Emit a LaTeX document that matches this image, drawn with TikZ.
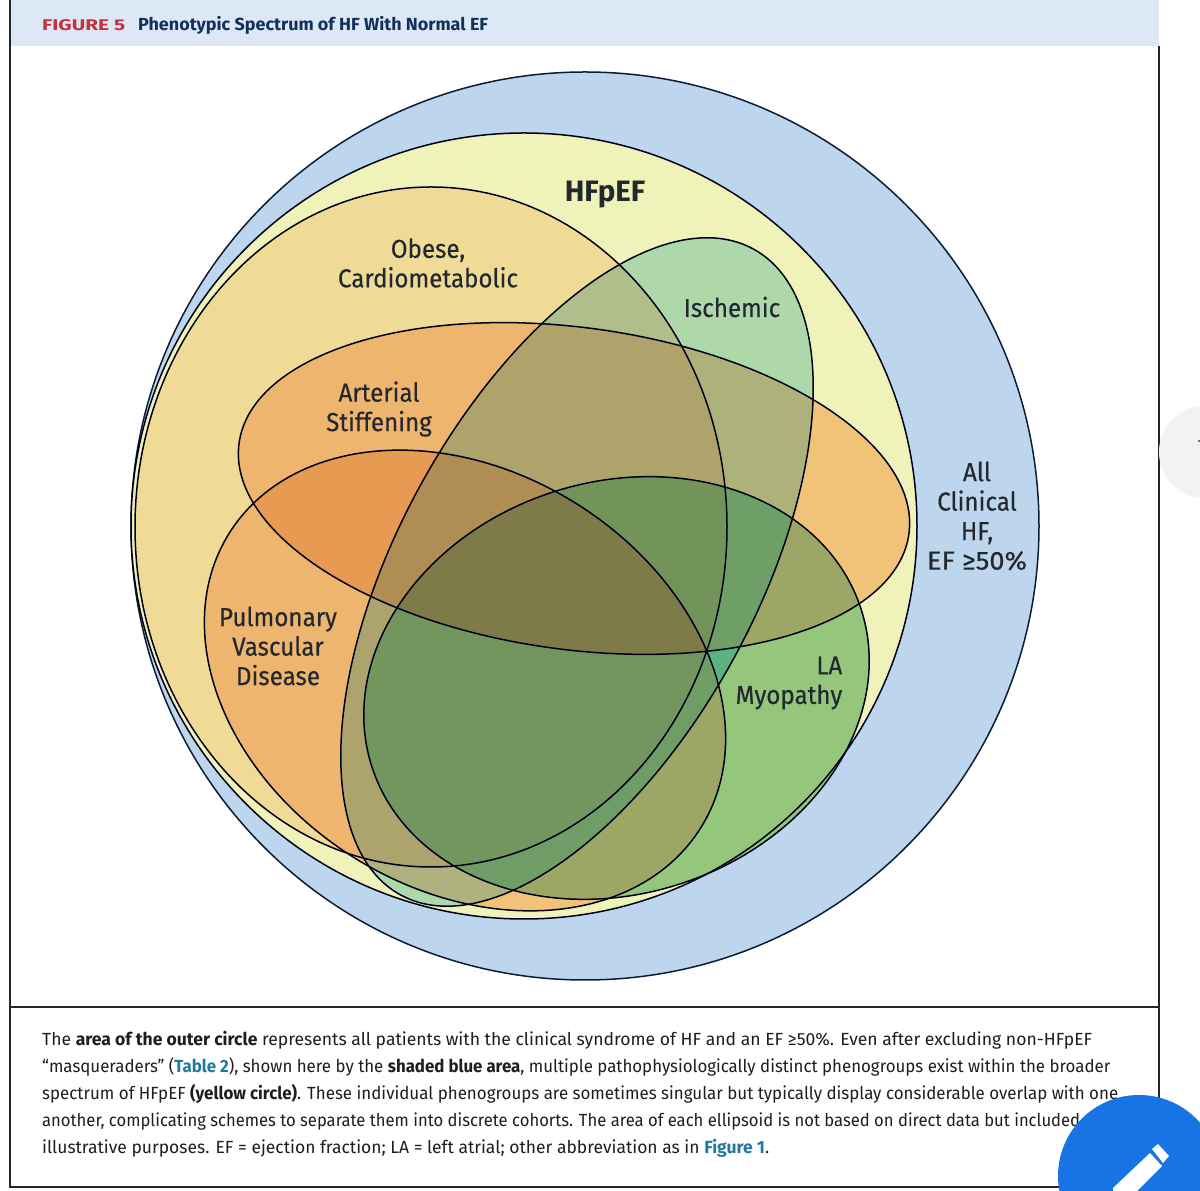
\documentclass[tikz,border=0pt]{standalone}
\usepackage{fontspec}
\setmainfont{Fira Sans}
\newfontfamily\labfont[FakeStretch=0.93,FakeBold=0.3]{Fira Sans}
\definecolor{labc}{HTML}{22282E}
\definecolor{capc}{HTML}{1E1E1E}
\definecolor{bandc}{HTML}{DCE8F5}
\definecolor{outerc}{HTML}{BDD6EE}
\definecolor{yellowc}{HTML}{EFF3B9}
\definecolor{linkc}{HTML}{1F7A9C}
\definecolor{redc}{HTML}{C8303C}
\definecolor{navyc}{HTML}{12305A}
\definecolor{btnc}{HTML}{1874E4}
\newcommand\pathO{(431,664) ellipse[x radius=296pt,y radius=340pt]}
\newcommand\pathA{(574,702.5) ellipse[x radius=338pt,y radius=161pt]}
\newcommand\pathP{(465,510.5) ellipse[x radius=278pt,y radius=209pt]}
\newcommand\pathI{(577,619) ellipse[x radius=368pt,y radius=179pt]}
\newcommand\pathL{(616.5,503) ellipse[x radius=257pt,y radius=206pt]}
\tikzset{
  rotO/.style={},
  rotA/.style={rotate around={-7.7:(574,702.5)}},
  rotP/.style={rotate around={-31.9:(465,510.5)}},
  rotI/.style={rotate around={61.35:(577,619)}},
  rotL/.style={rotate around={17.8:(616.5,503)}}}
\newcommand\clipO{\clip[rotO] \pathO;}
\newcommand\clipA{\clip[rotA] \pathA;}
\newcommand\clipP{\clip[rotP] \pathP;}
\newcommand\clipI{\clip[rotI] \pathI;}
\newcommand\clipL{\clip[rotL] \pathL;}
\newcommand\regionfill[2]{\begin{scope}#1\definecolor{tmpc}{HTML}{#2}\fill[tmpc] (0,0) rectangle (1200,1191);\end{scope}}
\begin{document}
\begin{tikzpicture}[x=1pt,y=1pt,
  lineE/.style={draw=black!90!blue,line width=1.5pt},
  frameline/.style={draw=black!85,line width=1.4pt},
  lab/.style={font=\fontsize{26}{30}\selectfont\labfont\color{labc},align=center,inner sep=0pt},
  captext/.style={anchor=base west,inner sep=0pt,font=\fontsize{17.6}{20}\selectfont\color{capc}}]
\useasboundingbox (0,0) rectangle (1200,1191);
\fill[white] (0,0) rectangle (1200,1191);
% band and frame
\fill[bandc] (10,1145) rectangle (1159,1191);
\draw[frameline] (10,1191) -- (10,4) -- (1159,4) -- (1159,1145);
\draw[frameline] (10,184) -- (1159,184);
% grey circle
\fill[black!5] (1205,739) circle[radius=46pt];
\fill[black!55] (1198,749) rectangle (1200,751);
% circles
\fill[outerc] (585,665) circle[radius=454pt];
\draw[lineE,draw=navyc!60!black] (585,665) circle[radius=454pt];
\fill[yellowc] (524,665) circle[radius=393pt];
% overlap regions, painted from fewest to most sets
\regionfill{\clipO}{EFDB95}
\regionfill{\clipA}{F0C379}
\regionfill{\clipP}{F0C379}
\regionfill{\clipI}{AED8AA}
\regionfill{\clipL}{94C77B}
\regionfill{\clipO\clipA}{EEB56F}
\regionfill{\clipO\clipP}{EEB56F}
\regionfill{\clipO\clipI}{B0BE8B}
\regionfill{\clipA\clipI}{ADB27B}
\regionfill{\clipP\clipI}{ADB27F}
\regionfill{\clipI\clipL}{5CB27F}
\regionfill{\clipA\clipL}{9CA765}
\regionfill{\clipP\clipL}{9CA765}
\regionfill{\clipO\clipA\clipP}{E69A52}
\regionfill{\clipO\clipA\clipI}{AEA36B}
\regionfill{\clipO\clipP\clipI}{ADA36D}
\regionfill{\clipA\clipI\clipL}{6E9F66}
\regionfill{\clipP\clipI\clipL}{6E9E66}
\regionfill{\clipO\clipI\clipL}{73955E}
\regionfill{\clipO\clipA\clipP\clipI}{B08D52}
\regionfill{\clipO\clipA\clipI\clipL}{72945A}
\regionfill{\clipO\clipP\clipI\clipL}{73955E}
\regionfill{\clipO\clipA\clipP\clipI\clipL}{7E7B49}
% outlines
\draw[lineE] (524,665) circle[radius=393pt];
\draw[lineE,rotO] \pathO;
\draw[lineE,rotA] \pathA;
\draw[lineE,rotP] \pathP;
\draw[lineE,rotI] \pathI;
\draw[lineE,rotL] \pathL;
% labels
\node[lab,font=\fontsize{29.5}{30}\selectfont\bfseries\color{labc}] (hfpef) at (605,996) {HFpEF};
\node[lab] (obese) at (428,928) {Obese,\\[-0.5pt]Cardiometabolic};
\node[lab] (isch) at (732,884) {Ischemic};
\node[lab] (art) at (379,782) {Arterial\\[-0.5pt]Stiffening};
\node[lab] (pvd) at (278,545) {Pulmonary\\[-0.5pt]Vascular\\[-0.5pt]Disease};
\node[lab,align=right] (la) at (789,508) {LA\\[-0.5pt]Myopathy};
\node[lab] (all) at (977,675) {All\\[-0.5pt]Clinical\\[-0.5pt]HF,\\[-0.5pt]\resizebox{100pt}{\height}{EF ≥50\%}};
% title
\node[anchor=base west,inner sep=0pt,font=\fontsize{15.5}{20}\selectfont\bfseries\color{redc}] (fig) at (42,1160) {\resizebox{83pt}{\height}{FIGURE 5}};
\node[anchor=base west,inner sep=0pt,font=\fontsize{17.5}{20}\selectfont\bfseries\color{navyc}] (title) at (138,1160) {\resizebox{350pt}{\height}{Phenotypic Spectrum of HF With Normal EF}};
% caption
\node[captext] (c1) at (42,145) {\resizebox{1050pt}{\height}{The \textbf{area of the outer circle} represents all patients with the clinical syndrome of HF and an EF ≥50\%. Even after excluding non-HFpEF}};
\node[captext] (c2) at (42,118) {\resizebox{1068pt}{\height}{“masqueraders” (\textcolor{linkc}{\textbf{Table 2}}), shown here by the \textbf{shaded blue area}, multiple pathophysiologically distinct phenogroups exist within the broader}};
\node[captext] (c3) at (42,91) {\resizebox{1076pt}{\height}{spectrum of HFpEF \textbf{(yellow circle)}. These individual phenogroups are sometimes singular but typically display considerable overlap with one}};
\node[captext] (c4) at (42,64) {\resizebox{1038pt}{\height}{another, complicating schemes to separate them into discrete cohorts. The area of each ellipsoid is not based on direct data but included}};
\node[captext] (c5) at (42,37) {\resizebox{727pt}{\height}{illustrative purposes. EF = ejection fraction; LA = left atrial; other abbreviation as in \textcolor{linkc}{\textbf{Figure 1}}.}};
% button
\fill[btnc] (1139,15) circle[radius=81pt];
\fill[white] (1152,42) -- (1158,47) -- (1169,35) -- (1163,28) -- cycle;
\fill[white] (1150,38) -- (1162,25) -- (1137,0) -- (1113,0) -- (1113,3) -- cycle;
\end{tikzpicture}
\end{document}
